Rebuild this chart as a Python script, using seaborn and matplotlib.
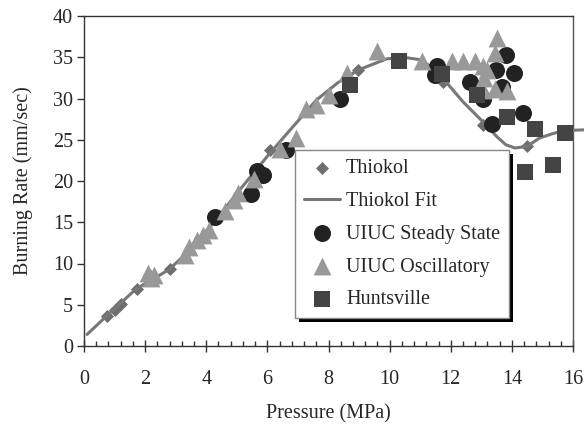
import numpy as np
import pandas as pd
import matplotlib
matplotlib.use("Agg")
import matplotlib.pyplot as plt
import matplotlib.patches as mpatches
import seaborn as sns

# ---------------- data ----------------
thiokol_p = [0.75, 1.0, 1.2, 1.75, 2.8, 6.1, 8.95, 11.75, 13.05, 14.5]
thiokol_r = [3.6, 4.4, 5.1, 6.9, 9.3, 23.8, 33.5, 32.0, 26.8, 24.2]

fit_p = [0.1, 0.7, 1.7, 2.8, 3.5, 4.3, 5.0, 6.0, 6.7, 7.6, 8.3, 9.0, 9.9,
         10.45, 11.0, 11.5, 11.8, 12.4, 13.1, 13.5, 13.8, 14.1, 14.5, 14.9,
         15.3, 15.6, 16.0, 16.35]
fit_r = [1.4, 3.5, 6.9, 9.3, 11.8, 15.2, 18.5, 23.0, 26.0, 29.8, 31.9, 33.5,
         34.8, 35.0, 34.7, 33.5, 32.2, 29.6, 27.0, 25.4, 24.4, 24.0, 24.2,
         25.2, 25.7, 26.0, 26.15, 26.2]

ss_p = [4.3, 5.45, 5.65, 5.87, 6.6, 8.38, 11.54, 11.5, 12.63, 13.07, 13.34,
        13.48, 13.67, 13.8, 14.07, 14.37]
ss_r = [15.6, 18.4, 21.2, 20.7, 23.8, 30.0, 34.0, 32.8, 32.0, 30.0, 26.9,
        33.5, 31.4, 35.3, 33.1, 28.3]

osc_p = [2.1, 2.3, 2.2, 3.3, 3.45, 3.7, 3.9, 4.1, 4.6, 4.9, 5.05, 5.55, 6.4,
         6.95, 7.25, 7.6, 8.0, 8.6, 9.6, 11.05, 12.05, 12.4, 12.8, 13.05,
         13.1, 13.05, 13.45, 13.85, 13.45, 13.5, 13.2]
osc_r = [8.8, 8.6, 8.3, 11.0, 12.0, 12.8, 13.5, 14.1, 16.4, 17.7, 18.5, 20.3,
         23.9, 25.2, 28.7, 29.2, 30.4, 33.1, 35.7, 34.6, 34.6, 34.6, 34.6,
         34.0, 32.5, 31.0, 31.2, 30.9, 35.5, 37.3, 33.5]

hv_p = [8.7, 10.3, 11.7, 12.85, 13.83, 14.76, 15.74, 14.43, 15.36]
hv_r = [31.6, 34.5, 33.0, 30.4, 27.7, 26.3, 25.8, 21.1, 21.9]

x_ticks = [0, 2, 4, 6, 8, 10, 12, 14, 16]
y_ticks = [0, 5, 10, 15, 20, 25, 30, 35, 40]

# ---------------- style ----------------
sns.set_theme(style="ticks")
plt.rcParams["font.family"] = ["Liberation Serif", "DejaVu Serif"]
plt.rcParams["axes.edgecolor"] = "#333333"

fig = plt.figure(figsize=(5.84, 4.34), dpi=100)
ax = fig.add_axes([84 / 584, 1 - 346 / 434, (573 - 84) / 584, (346 - 16) / 434])

df_t = pd.DataFrame({"p": thiokol_p, "r": thiokol_r})
df_f = pd.DataFrame({"p": fit_p, "r": fit_r})
df_s = pd.DataFrame({"p": ss_p, "r": ss_r})
df_o = pd.DataFrame({"p": osc_p, "r": osc_r})
df_h = pd.DataFrame({"p": hv_p, "r": hv_r})

sns.scatterplot(data=df_t, x="p", y="r", ax=ax, marker="D", s=44,
                color="#6e6e6e", linewidth=0, label="Thiokol", zorder=3)
sns.lineplot(data=df_f, x="p", y="r", ax=ax, sort=False,
             color="#777777", linewidth=2.2, label="Thiokol Fit", zorder=3.5)
for l in ax.lines:
    l.set_clip_on(False)
sns.scatterplot(data=df_s, x="p", y="r", ax=ax, marker="o", s=150,
                color="#222222", linewidth=0, label="UIUC Steady State",
                zorder=4)
sns.scatterplot(data=df_o, x="p", y="r", ax=ax, marker="^", s=165,
                color="#999999", linewidth=0, label="UIUC Oscillatory",
                zorder=4.2)
sns.scatterplot(data=df_h, x="p", y="r", ax=ax, marker="s", s=130,
                color="#444444", linewidth=0, label="Huntsville", zorder=4.4)

ax.set_xlim(0, 16)
ax.set_ylim(0, 40)
ax.set_xticks(x_ticks)
ax.set_yticks(y_ticks)
ax.set_xticks(np.arange(0, 16.01, 0.4), minor=True)
ax.tick_params(axis="x", which="major", direction="inout", length=9,
               width=1, color="#333333", labelsize=14.5, pad=13)
ax.tick_params(axis="x", which="minor", direction="in", length=3.5,
               width=1, color="#333333")
ax.tick_params(axis="y", which="major", direction="out", length=5,
               width=1, color="#333333", labelsize=14.5, pad=3)
for sp in ax.spines.values():
    sp.set_visible(True)
    sp.set_linewidth(1.0)
ax.spines["right"].set_color("#555555")

ax.set_xlabel("Pressure (MPa)", fontsize=14.5, labelpad=11)
ax.set_ylabel("Burning Rate (mm/sec)", fontsize=14.5, labelpad=14)

handles, labels = ax.get_legend_handles_labels()
leg = ax.legend(handles, labels, loc="upper left",
                bbox_to_anchor=(0.431, 0.594), fontsize=14.5,
                frameon=True, fancybox=False, framealpha=1,
                edgecolor="#888888", handlelength=1.8, handletextpad=0.3,
                labelspacing=0.68, borderpad=0.45, borderaxespad=0)
leg.get_frame().set_linewidth(1.0)
leg.set_zorder(10)

# black drop shadow behind the legend
fig.canvas.draw()
bb = leg.get_window_extent()
shadow = mpatches.Rectangle((bb.x0 + 4, bb.y0 - 4), bb.width, bb.height,
                            transform=None, facecolor="black",
                            edgecolor="none", zorder=9, clip_on=False)
ax.add_artist(shadow)

fig.savefig("out.png", dpi=100)
